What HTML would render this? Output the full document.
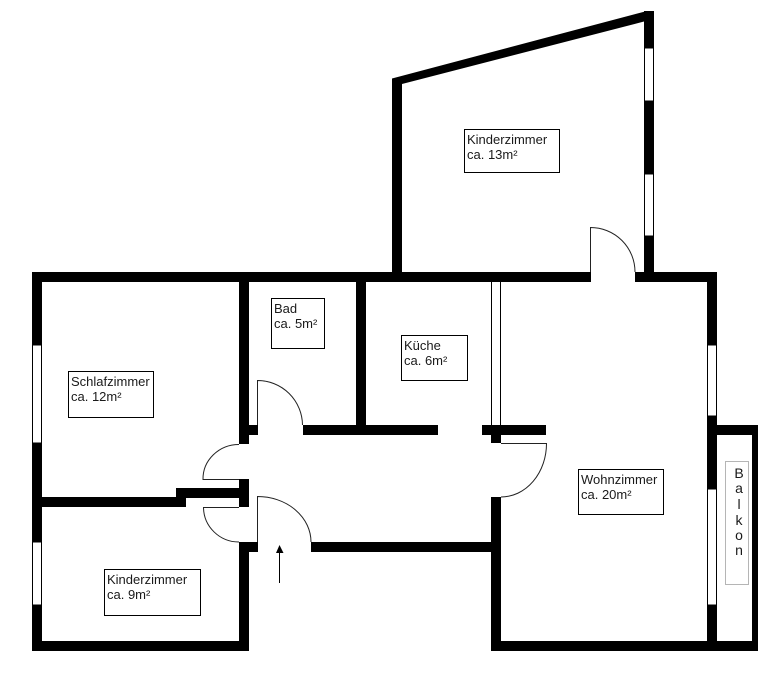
<!DOCTYPE html>
<html><head><meta charset="utf-8"><style>
html,body{margin:0;padding:0;background:#fff}
svg{display:block}
text{font-family:"Liberation Sans",Arial,sans-serif;font-size:13px;fill:#1a1a1a}
.w{fill:#000}
.l{fill:none;stroke:#000;stroke-width:1}
.a{fill:none;stroke:#222;stroke-width:1}
.b{fill:#fff;stroke:#000;stroke-width:1}
</style></head><body>
<svg width="782" height="690" viewBox="0 0 782 690" xmlns="http://www.w3.org/2000/svg">
<rect width="782" height="690" fill="#fff"/>
<!-- top room -->
<polygon class="w" points="392,78.500 647,11 654,11 654,21 644,21.500 402,84"/>
<rect class="w" x="392" y="78.500" width="10" height="200"/>
<rect class="w" x="644" y="11" width="10" height="265"/>
<rect class="b" x="644.500" y="48" width="9" height="53"/>
<rect class="b" x="644.500" y="174" width="9" height="62"/>
<!-- horizontal top wall -->
<rect class="w" x="32" y="272" width="559" height="10"/>
<rect class="w" x="635" y="272" width="82" height="10"/>
<!-- outer left -->
<rect class="w" x="32" y="272" width="10" height="379"/>
<rect class="b" x="32.500" y="345" width="9" height="98"/>
<rect class="b" x="32.500" y="542" width="9" height="63"/>
<rect class="w" x="32" y="641" width="217" height="10"/>
<!-- interior walls left -->
<rect class="w" x="239" y="272" width="10" height="172"/>
<rect class="w" x="239" y="479" width="10" height="28"/>
<rect class="w" x="239" y="542" width="10" height="109"/>
<rect class="w" x="176" y="488" width="63" height="10"/>
<rect class="w" x="32" y="497" width="154" height="10"/>
<rect class="w" x="249" y="425" width="9" height="10"/>
<rect class="w" x="249" y="542" width="9" height="10"/>
<rect class="w" x="303" y="425" width="135" height="10"/>
<rect class="w" x="356" y="272" width="10" height="160"/>
<rect class="w" x="482" y="425" width="64" height="10"/>
<rect class="w" x="491" y="435" width="10" height="8"/>
<rect class="w" x="491" y="497" width="10" height="154"/>
<rect class="w" x="311" y="542" width="185" height="10"/>
<path class="l" d="M491.500 282V425M500.500 282V425"/>
<!-- right wall and balcony -->
<rect class="w" x="707" y="272" width="10" height="379"/>
<rect class="b" x="707.500" y="345" width="9" height="71"/>
<rect class="b" x="707.500" y="489" width="9" height="116"/>
<rect class="w" x="491" y="641" width="267" height="10"/>
<rect class="w" x="717" y="425" width="41" height="10"/>
<rect class="w" x="752" y="425" width="6" height="226"/>
<!-- doors -->
<path class="a" d="M590.500 272V227.500A44.500 44.500 0 0 1 635 272"/>
<path class="a" d="M257.500 425V380.500A45 45 0 0 1 302.500 425"/>
<path class="a" d="M257.500 542V496.500A53.500 45.500 0 0 1 311 542"/>
<path class="a" d="M239 444.500A36 34.500 0 0 0 203 479.500H239"/>
<path class="a" d="M239 542A35.500 35 0 0 1 203.500 507.500H239"/>
<path class="a" d="M501 443.500H546.500A45.500 53.500 0 0 1 501 497"/>
<!-- entry arrow -->
<path class="l" d="M279.500 583V552"/>
<polygon class="w" points="279.500,545 276,553 283.500,553"/>
<!-- labels -->
<rect class="b" x="464.500" y="129.500" width="95" height="43"/>
<text x="467" y="144">Kinderzimmer</text><text x="467" y="159">ca. 13m²</text>
<rect class="b" x="271.500" y="298.500" width="53" height="50"/>
<text x="274" y="313">Bad</text><text x="274" y="328">ca. 5m²</text>
<rect class="b" x="68.500" y="371.500" width="85" height="46"/>
<text x="71" y="386">Schlafzimmer</text><text x="71" y="401">ca. 12m²</text>
<rect class="b" x="401.500" y="335.500" width="66" height="45"/>
<text x="404" y="350">Küche</text><text x="404" y="365">ca. 6m²</text>
<rect class="b" x="578.500" y="469.500" width="85" height="45"/>
<text x="581" y="484">Wohnzimmer</text><text x="581" y="499">ca. 20m²</text>
<rect class="b" x="104.500" y="569.500" width="96" height="46"/>
<text x="107" y="584">Kinderzimmer</text><text x="107" y="599">ca. 9m²</text>
<rect x="725.500" y="461.500" width="23" height="123" fill="#fff" stroke="#b5b5b5"/>
<g text-anchor="middle" style="font-size:14px">
<text x="739" y="478" style="font-size:14px">B</text><text x="739" y="493" style="font-size:14px">a</text><text x="739" y="509" style="font-size:14px">l</text><text x="739" y="525" style="font-size:14px">k</text><text x="739" y="540" style="font-size:14px">o</text><text x="739" y="555" style="font-size:14px">n</text>
</g>
</svg>
</body></html>
